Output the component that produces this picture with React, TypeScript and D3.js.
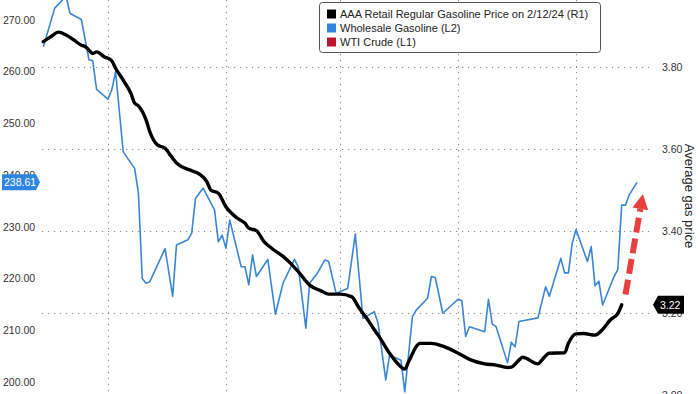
import { useEffect, useRef } from "react";
import * as d3 from "d3";

// Wholesale gasoline (left axis)
const wholesaleDates = [
  "2023-09-14", "2023-09-17", "2023-09-20", "2023-09-21", "2023-09-24", "2023-09-26", "2023-09-27", "2023-09-28",
  "2023-10-01", "2023-10-02", "2023-10-03", "2023-10-05", "2023-10-08", "2023-10-09", "2023-10-10", "2023-10-11",
  "2023-10-12", "2023-10-16", "2023-10-18", "2023-10-19", "2023-10-22", "2023-10-23", "2023-10-24", "2023-10-25",
  "2023-10-26", "2023-10-29", "2023-10-30", "2023-10-31", "2023-11-01", "2023-11-02", "2023-11-05", "2023-11-06",
  "2023-11-07", "2023-11-08", "2023-11-09", "2023-11-12", "2023-11-14", "2023-11-16", "2023-11-19", "2023-11-20",
  "2023-11-22", "2023-11-23", "2023-11-25", "2023-11-27", "2023-11-28", "2023-11-30", "2023-12-01", "2023-12-03",
  "2023-12-05", "2023-12-07", "2023-12-10", "2023-12-11", "2023-12-13", "2023-12-14", "2023-12-17", "2023-12-18",
  "2023-12-20", "2023-12-21", "2023-12-24", "2023-12-25", "2023-12-26", "2023-12-28", "2024-01-01", "2024-01-02",
  "2024-01-03", "2024-01-04", "2024-01-08", "2024-01-09", "2024-01-10", "2024-01-11", "2024-01-14", "2024-01-15",
  "2024-01-16", "2024-01-17", "2024-01-22", "2024-01-24", "2024-01-25", "2024-01-28", "2024-01-29", "2024-01-30",
  "2024-01-31", "2024-02-01", "2024-02-04", "2024-02-05", "2024-02-06", "2024-02-07", "2024-02-08", "2024-02-11",
  "2024-02-12", "2024-02-13", "2024-02-14", "2024-02-15", "2024-02-17",
];
const wholesaleValues = [
  264.8, 272.3, 274.6, 271.3, 270.1, 262.3, 262.1, 256.6,
  254.7, 256.5, 260.0, 244.5, 241.3, 236.5, 220.0, 219.1,
  219.4, 225.8, 216.6, 226.5, 227.5, 228.8, 235.5, 236.5,
  237.5, 233.3, 227.1, 228.4, 225.9, 231.3, 222.3, 222.3,
  218.8, 224.6, 220.4, 223.7, 213.1, 219.1, 223.7, 222.3,
  210.4, 219.1, 221.0, 223.6, 223.3, 217.0, 217.5, 218.1,
  228.6, 212.3, 213.6, 211.3, 200.4, 205.2, 204.2, 198.1,
  212.6, 213.9, 216.2, 220.4, 220.2, 213.3, 216.0, 215.7,
  208.8, 210.7, 209.7, 216.0, 211.2, 210.7, 203.7, 207.7,
  206.8, 211.7, 212.4, 218.4, 216.6, 223.9, 221.1, 221.1,
  226.8, 229.5, 223.3, 226.2, 218.6, 219.5, 214.9, 220.4,
  221.8, 234.2, 234.2, 236.2, 238.61,
];

// AAA retail regular gasoline (right axis)
const retailDates = [
  "2023-09-14", "2023-09-16", "2023-09-18", "2023-09-20", "2023-09-22", "2023-09-24", "2023-09-25", "2023-09-26",
  "2023-09-27", "2023-09-28", "2023-09-30", "2023-10-02", "2023-10-03", "2023-10-05", "2023-10-07", "2023-10-08",
  "2023-10-09", "2023-10-11", "2023-10-12", "2023-10-14", "2023-10-16", "2023-10-17", "2023-10-19", "2023-10-21",
  "2023-10-23", "2023-10-25", "2023-10-27", "2023-10-28", "2023-10-30", "2023-11-01", "2023-11-04", "2023-11-06",
  "2023-11-07", "2023-11-09", "2023-11-11", "2023-11-13", "2023-11-16", "2023-11-18", "2023-11-20", "2023-11-23",
  "2023-11-26", "2023-11-28", "2023-12-01", "2023-12-04", "2023-12-06", "2023-12-08", "2023-12-10", "2023-12-11",
  "2023-12-14", "2023-12-16", "2023-12-18", "2023-12-19", "2023-12-22", "2023-12-25", "2023-12-28", "2024-01-01",
  "2024-01-04", "2024-01-08", "2024-01-11", "2024-01-14", "2024-01-15", "2024-01-17", "2024-01-18", "2024-01-22",
  "2024-01-23", "2024-01-25", "2024-01-29", "2024-01-30", "2024-02-01", "2024-02-03", "2024-02-06", "2024-02-08",
  "2024-02-10", "2024-02-12", "2024-02-13",
];
const retailValues = [
  3.862, 3.874, 3.885, 3.878, 3.866, 3.853, 3.85, 3.841,
  3.833, 3.837, 3.825, 3.815, 3.797, 3.768, 3.736, 3.712,
  3.705, 3.671, 3.642, 3.61, 3.602, 3.59, 3.566, 3.554,
  3.547, 3.539, 3.52, 3.5, 3.492, 3.459, 3.431, 3.419,
  3.407, 3.401, 3.374, 3.358, 3.338, 3.321, 3.301, 3.268,
  3.254, 3.246, 3.246, 3.24, 3.212, 3.187, 3.159, 3.146,
  3.102, 3.078, 3.063, 3.081, 3.126, 3.126, 3.119, 3.102,
  3.087, 3.076, 3.073, 3.067, 3.068, 3.085, 3.092, 3.076,
  3.085, 3.102, 3.103, 3.126, 3.149, 3.15, 3.146, 3.16,
  3.183, 3.199, 3.22,
];

const leftTicks = [200, 210, 220, 230, 240, 250, 260, 270];
const rightTicks = [3.0, 3.2, 3.4, 3.6, 3.8];
const legendItems = [
  { label: "AAA Retail Regular Gasoline Price on 2/12/24 (R1)", color: "#000000" },
  { label: "Wholesale Gasoline (L2)", color: "#2f86e0" },
  { label: "WTI Crude (L1)", color: "#c0142e" },
];
const arrowFrom = { date: "2024-02-14", value: 3.245 };
const arrowTo = { date: "2024-02-18T14:00:00Z", value: 3.49 };

const W = 700;
const H = 394;
const FONT = "'Liberation Sans', Arial, sans-serif";

export default function App() {
  const svgRef = useRef<SVGSVGElement>(null);

  useEffect(() => {
    if (!svgRef.current) return;
    const svg = d3.select(svgRef.current);
    svg.selectAll("*").remove();

    const parse = (s: string) => new Date(s.length > 10 ? s : s + "T00:00:00Z");
    const x = d3
      .scaleUtc()
      .domain([parse("2023-09-14"), parse("2024-02-20")])
      .range([43.3, 648.3]);
    const yL = d3.scaleLinear().domain([200, 270]).range([382, 20]);
    const yR = d3.scaleLinear().domain([3.2, 3.8]).range([313, 67]);

    svg.append("rect").attr("width", W).attr("height", H).attr("fill", "#fff");

    // grid
    const grid = svg.append("g").attr("stroke", "#8a8a8a").attr("stroke-width", 1).attr("stroke-dasharray", "1.2,4.8");
    grid
      .selectAll("line.v")
      .data(d3.utcMonth.range(parse("2023-09-20"), parse("2024-02-20")))
      .join("line")
      .attr("x1", (d) => Math.round(x(d)) + 0.5)
      .attr("x2", (d) => Math.round(x(d)) + 0.5)
      .attr("y1", 0)
      .attr("y2", H);
    grid
      .selectAll("line.h")
      .data(rightTicks)
      .join("line")
      .attr("x1", 42)
      .attr("x2", 652)
      .attr("y1", (d) => Math.round(yR(d)) + 0.5)
      .attr("y2", (d) => Math.round(yR(d)) + 0.5);

    // left axis labels
    svg
      .append("g")
      .selectAll("text")
      .data(leftTicks)
      .join("text")
      .attr("x", 3)
      .attr("y", (d) => yL(d))
      .attr("dy", "0.36em")
      .attr("font-family", FONT)
      .attr("font-size", 10.5)
      .attr("fill", "#333")
      .text((d) => d.toFixed(2));

    // right axis labels
    svg
      .append("g")
      .selectAll("text")
      .data(rightTicks)
      .join("text")
      .attr("x", 662)
      .attr("y", (d) => yR(d))
      .attr("dy", "0.36em")
      .attr("font-family", FONT)
      .attr("font-size", 10.5)
      .attr("fill", "#333")
      .text((d) => d.toFixed(2));

    svg
      .append("text")
      .attr("transform", `translate(685,196) rotate(90)`)
      .attr("text-anchor", "middle")
      .attr("font-family", FONT)
      .attr("font-size", 13)
      .attr("fill", "#222")
      .text("Average gas price");

    // series
    const wholesale = wholesaleDates.map((d, i) => ({ date: parse(d), value: wholesaleValues[i] }));
    const retail = retailDates.map((d, i) => ({ date: parse(d), value: retailValues[i] }));

    svg
      .append("path")
      .datum(wholesale)
      .attr("fill", "none")
      .attr("stroke", "#3a86d4")
      .attr("stroke-width", 1.6)
      .attr("stroke-linejoin", "round")
      .attr(
        "d",
        d3
          .line<{ date: Date; value: number }>()
          .x((d) => x(d.date))
          .y((d) => yL(d.value))
      );

    svg
      .append("path")
      .datum(retail)
      .attr("fill", "none")
      .attr("stroke", "#000")
      .attr("stroke-width", 3.4)
      .attr("stroke-linejoin", "round")
      .attr("stroke-linecap", "round")
      .attr(
        "d",
        d3
          .line<{ date: Date; value: number }>()
          .curve(d3.curveMonotoneX)
          .x((d) => x(d.date))
          .y((d) => yR(d.value))
      );

    // red dashed arrow
    const ax0 = x(parse(arrowFrom.date));
    const ay0 = yR(arrowFrom.value);
    const ax1 = x(parse(arrowTo.date));
    const ay1 = yR(arrowTo.value);
    const ang = Math.atan2(ay1 - ay0, ax1 - ax0);
    const headLen = 15;
    const headHalf = 8;
    const bx = ax1 - headLen * Math.cos(ang);
    const by = ay1 - headLen * Math.sin(ang);
    const nx = -Math.sin(ang);
    const ny = Math.cos(ang);
    const arrow = svg.append("g").attr("fill", "#e8403e").attr("stroke", "#e8403e");
    arrow
      .append("line")
      .attr("x1", ax0)
      .attr("y1", ay0)
      .attr("x2", bx)
      .attr("y2", by)
      .attr("stroke-width", 6)
      .attr("stroke-dasharray", "15,6");
    arrow
      .append("path")
      .attr("stroke", "none")
      .attr(
        "d",
        `M${ax1},${ay1}L${bx + nx * headHalf},${by + ny * headHalf}L${bx - nx * headHalf},${by - ny * headHalf}Z`
      );

    // last value tags
    const lastW = wholesale[wholesale.length - 1];
    const ty = yL(lastW.value);
    svg
      .append("path")
      .attr("fill", "#2f86e0")
      .attr("d", `M2,${ty - 8}H36L40,${ty}L36,${ty + 8}H2Z`);
    svg
      .append("text")
      .attr("x", 4)
      .attr("y", ty)
      .attr("dy", "0.36em")
      .attr("font-family", FONT)
      .attr("font-size", 10.5)
      .attr("fill", "#fff")
      .text(lastW.value.toFixed(2));

    const lastR = retail[retail.length - 1];
    const ry = yR(lastR.value);
    svg
      .append("path")
      .attr("fill", "#000")
      .attr("d", `M653,${ry}L658,${ry - 9}H684V${ry + 9}H658Z`);
    svg
      .append("text")
      .attr("x", 660)
      .attr("y", ry)
      .attr("dy", "0.36em")
      .attr("font-family", FONT)
      .attr("font-size", 10.5)
      .attr("fill", "#fff")
      .text(lastR.value.toFixed(2));

    // legend
    const lg = svg.append("g");
    lg.append("rect")
      .attr("x", 319.5)
      .attr("y", 2.5)
      .attr("width", 281)
      .attr("height", 50)
      .attr("rx", 3)
      .attr("fill", "#fff")
      .attr("stroke", "#555");
    const rows = lg
      .selectAll("g")
      .data(legendItems)
      .join("g")
      .attr("transform", (_, i) => `translate(327,${14 + i * 14})`);
    rows
      .append("rect")
      .attr("y", -4.5)
      .attr("width", 9)
      .attr("height", 9)
      .attr("fill", (d) => d.color);
    rows
      .append("text")
      .attr("x", 13)
      .attr("dy", "0.36em")
      .attr("font-family", FONT)
      .attr("font-size", 11)
      .attr("fill", "#222")
      .text((d) => d.label);
  }, []);

  return (
    <svg
      ref={svgRef}
      width={W}
      height={H}
      style={{ position: "absolute", left: 0, top: 0, display: "block" }}
    />
  );
}
